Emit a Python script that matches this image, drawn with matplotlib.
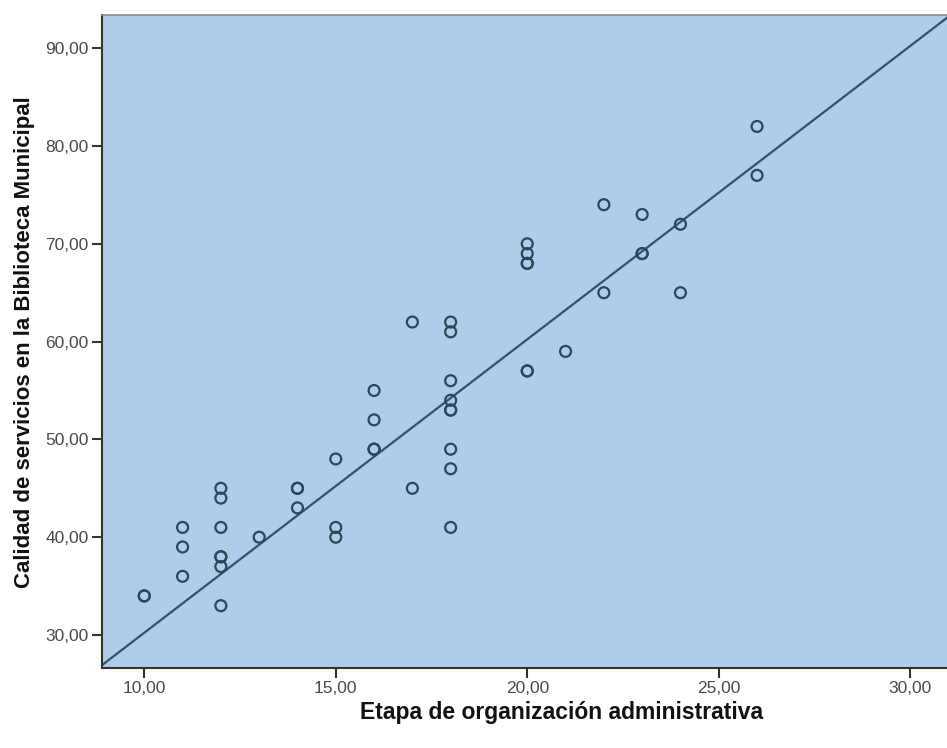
import numpy as np
import matplotlib
matplotlib.use("Agg")
import matplotlib.pyplot as plt
from matplotlib.ticker import FuncFormatter

# x: Etapa de organización administrativa, y: Calidad de servicios
etapa = [10, 10,
         11, 11, 11,
         12, 12, 12, 12, 12, 12, 12,
         13,
         14, 14, 14,
         15, 15, 15,
         16, 16, 16, 16,
         17, 17,
         18, 18, 18, 18, 18, 18, 18, 18, 18,
         20, 20, 20, 20, 20, 20,
         21,
         22, 22,
         23, 23, 23,
         24, 24,
         26, 26]
calidad = [34, 34,
           41, 39, 36,
           45, 44, 41, 38, 38, 37, 33,
           40,
           45, 45, 43,
           48, 41, 40,
           55, 52, 49, 49,
           62, 45,
           62, 61, 56, 54, 53, 53, 49, 47, 41,
           70, 69, 68, 68, 57, 57,
           59,
           74, 65,
           73, 69, 69,
           72, 65,
           82, 77]

# fit line
fit_slope = 3.0
fit_intercept = 0.23

x_ticks = [10, 15, 20, 25, 30]
y_ticks = [30, 40, 50, 60, 70, 80, 90]

FONT = ["Liberation Sans", "DejaVu Sans"]
BG = "#adcdeb"
EDGE = "#2b4759"


def comma_fmt(v, pos):
    return f"{v:.2f}".replace(".", ",")


def main():
    plt.rcParams["font.family"] = FONT

    fig = plt.figure(figsize = (9.47, 7.48), dpi = 100)
    ax = fig.add_axes([0.1077, 0.1070, 0.8923, 0.8730])
    ax.set_facecolor(BG)

    ax.scatter(
        etapa,
        calidad,
        s = 62,
        facecolors = "none",
        edgecolors = EDGE,
        linewidths = 1.6,
        zorder = 3
        )

    ax.set_xlim(8.896, 30.96)
    ax.set_ylim(26.63, 93.4)

    xs = np.array(ax.get_xlim())
    ax.plot(xs, fit_intercept + fit_slope*xs, color = "#34506a", linewidth = 1.6, zorder = 2)

    ax.set_xticks(x_ticks)
    ax.set_yticks(y_ticks)
    ax.xaxis.set_major_formatter(FuncFormatter(comma_fmt))
    ax.yaxis.set_major_formatter(FuncFormatter(comma_fmt))
    ax.tick_params(
        direction = "out",
        length = 7,
        width = 1.5,
        color = "#333333",
        labelsize = 12.5,
        labelcolor = "#4a4a4a",
        pad = 2.5
        )

    for side in ["left", "bottom"]:
        ax.spines[side].set_color("#333333")
        ax.spines[side].set_linewidth(1.5)
    ax.spines["top"].set_color("#8a8a8a")
    ax.spines["top"].set_linewidth(1.2)
    ax.spines["right"].set_visible(False)

    fig.text(
        562/947, 1 - 712/748,
        "Etapa de organización administrativa",
        ha = "center", va = "center",
        fontsize = 16.5, fontweight = "bold", color = "#111111"
        )
    fig.text(
        25/947, 1 - 342/748,
        "Calidad de servicios en la Biblioteca Municipal",
        ha = "center", va = "center", rotation = 90,
        fontsize = 16, fontweight = "bold", color = "#111111"
        )

    fig.savefig("out.png", dpi = 100, facecolor = "white")
    plt.close(fig)


if __name__ == "__main__":
    main()
